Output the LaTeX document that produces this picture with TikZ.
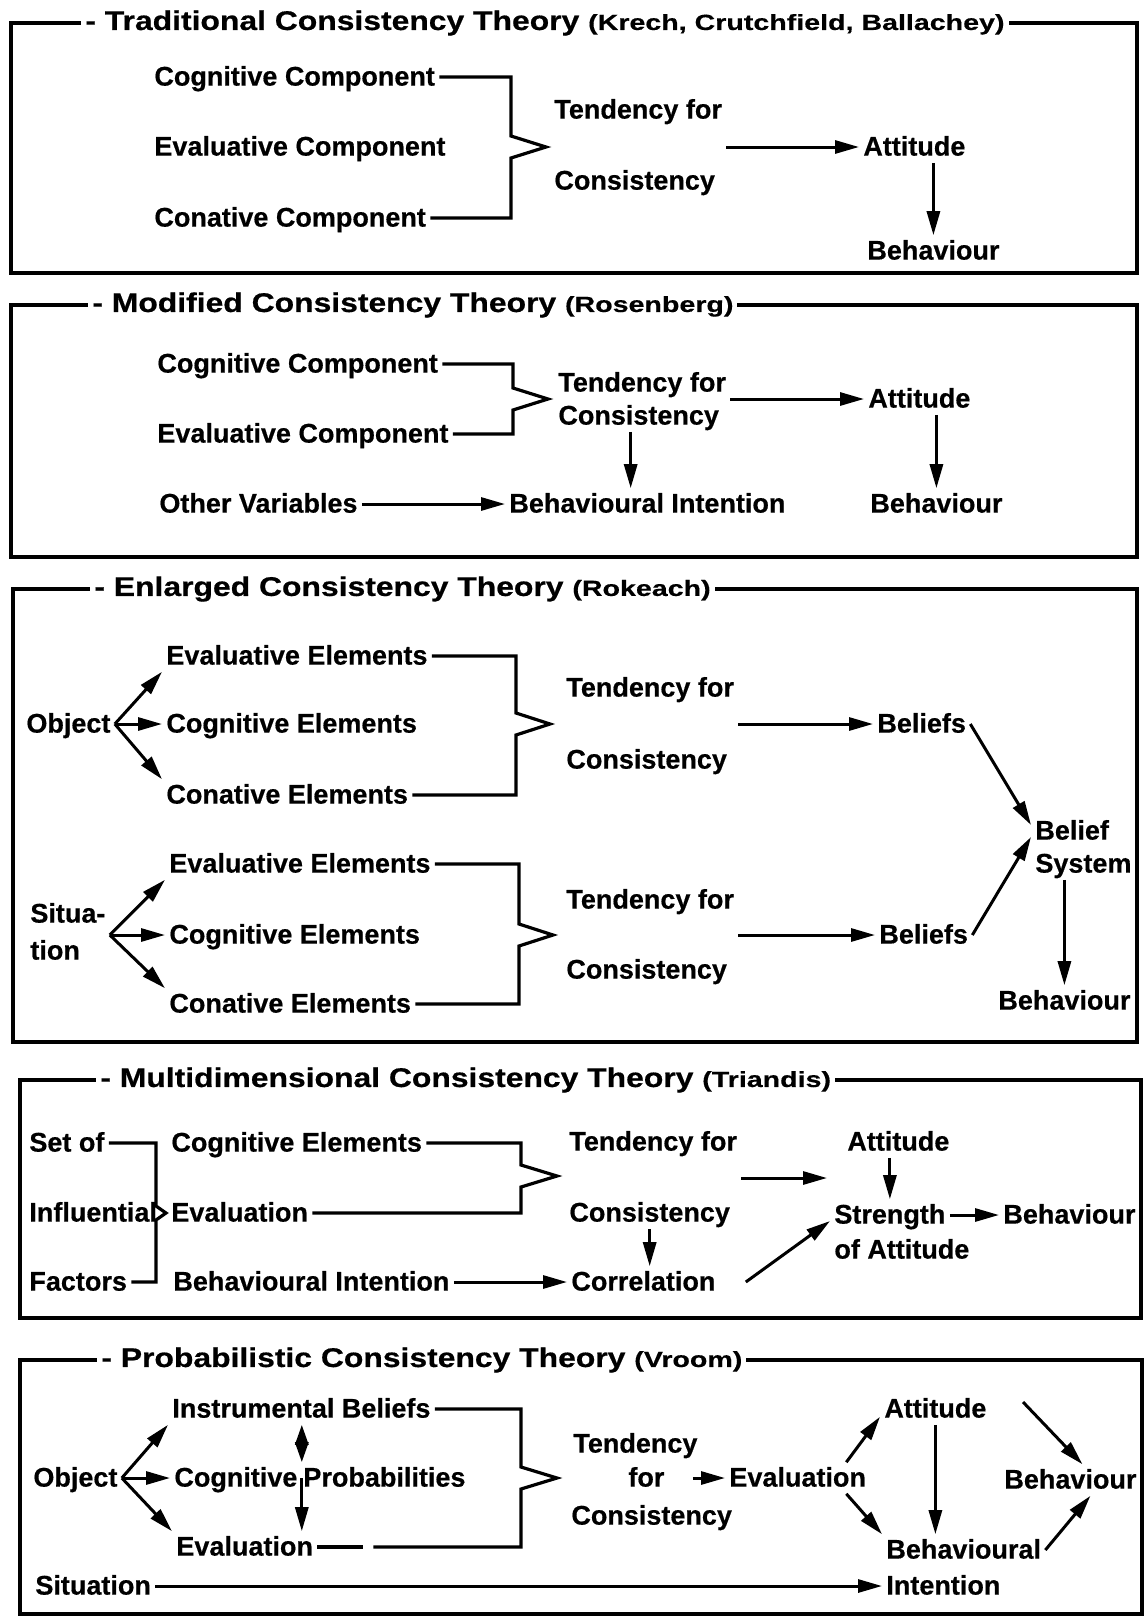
\documentclass[tikz,border=0pt]{standalone}
\usepackage{fontspec}
\setmainfont{Liberation Sans}[BoldFeatures={FakeBold=0.5}]
\newfontfamily\ttlfam{Liberation Sans}[FakeStretch=1.18, BoldFeatures={FakeBold=0.6}]
\newfontfamily\parfam{Liberation Sans}[FakeStretch=1.3, BoldFeatures={FakeBold=0.4}]
\usetikzlibrary{arrows.meta}
\newcommand{\bodyfnt}{\fontsize{13.5pt}{16pt}\selectfont\bfseries}
\newcommand{\ttlfnt}{\ttlfam\fontsize{13.5pt}{16pt}\selectfont\bfseries}
\newcommand{\parfnt}{\parfam\fontsize{11pt}{13pt}\selectfont\bfseries}

\begin{document}
\begin{tikzpicture}[
    x=0.5pt, y=-0.5pt,
    txt/.style={anchor=west, inner sep=2pt, font=\bodyfnt, text height=10pt, text depth=1.4pt},
    ttl/.style={anchor=west, inner sep=2pt, fill=white, font=\ttlfnt},
    frame/.style={draw, line width=2.2pt},
    link/.style={line width=1.6pt},
    arr/.style={line width=1.5pt, -{Triangle[length=12pt, width=6.5pt]}},
    biarr/.style={line width=1.5pt, {Triangle[length=10pt, width=6.5pt]}-{Triangle[length=10pt, width=6.5pt]}}
]
\useasboundingbox (0,0) rectangle (1145,1618);

% Box 1: traditional theory
\draw[frame] (11,23) rectangle (1137,273);
\node[ttl] (t1) at (81,23) {- Traditional Consistency Theory {\parfnt (Krech, Crutchfield, Ballachey)}};
\node[txt] (cc1) at (150,77) {Cognitive Component};
\node[txt] (ec1) at (150,147) {Evaluative Component};
\node[txt] (nc1) at (150,218) {Conative Component};
\node[txt] (tf1) at (550,110) {Tendency for};
\node[txt] (cs1) at (550,181) {Consistency};
\node[txt] (at1) at (859,147) {Attitude};
\node[txt] (bh1) at (863,251) {Behaviour};
\coordinate (k1) at (511,147);
\draw[link] (cc1.east) -| ([yshift=5.5pt]k1) -- ++(35,11) -- ++(-35,11) |- (nc1.east);
\draw[arr] (tf1.east |- at1.west) -- (at1.west);
\draw[arr] (bh1.north |- at1.south) -- (bh1.north);

% Box 2: modified theory
\draw[frame] (11,305) rectangle (1137,557);
\node[ttl] (t2) at (88,305) {- Modified Consistency Theory {\parfnt (Rosenberg)}};
\node[txt] (cc2) at (153,364) {Cognitive Component};
\node[txt] (ec2) at (153,434) {Evaluative Component};
\node[txt] (tf2) at (554,383) {Tendency for};
\node[txt] (cs2) at (554,416) {Consistency};
\node[txt] (at2) at (864,399) {Attitude};
\node[txt] (bh2) at (866,504) {Behaviour};
\node[txt] (ov2) at (155,504) {Other Variables};
\node[txt] (bi2) at (505,504) {Behavioural Intention};
\coordinate (k2) at (513,399);
\draw[link] (cc2.east) -| ([yshift=5.5pt]k2) -- ++(35,11) -- ++(-35,11) |- (ec2.east);
\draw[arr] (tf2.east |- at2.west) -- (at2.west);
\draw[arr] (bh2.north |- at2.south) -- (bh2.north);
\draw[arr] ([xshift=-4pt]cs2.south) -- ([xshift=-4pt]cs2.south |- bi2.north);
\draw[arr] (ov2) -- (bi2);

% Box 3: enlarged theory
\draw[frame] (13,589) rectangle (1137,1042);
\node[ttl] (t3) at (90,589) {- Enlarged Consistency Theory {\parfnt (Rokeach)}};
% object part
\node[txt] (ob3) at (22,724) {Object};
\node[txt] (ee3a) at (162,656) {Evaluative Elements};
\node[txt] (ce3a) at (162,724) {Cognitive Elements};
\node[txt] (ne3a) at (162,795) {Conative Elements};
\node[txt] (tf3a) at (562,688) {Tendency for};
\node[txt] (cs3a) at (562,760) {Consistency};
\node[txt] (bl3a) at (873,724) {Beliefs};
\draw[arr] (ob3.east) -- (ee3a.south west);
\draw[arr] (ob3.east) -- (ce3a.west);
\draw[arr] (ob3.east) -- (ne3a.north west);
\coordinate (k3a) at (516,724);
\draw[link] (ee3a.east) -| ([yshift=5.5pt]k3a) -- ++(34,11) -- ++(-34,11) |- (ne3a.east);
\draw[arr] (tf3a.east |- bl3a.west) -- (bl3a.west);
% situation part
\node[txt] (st3) at (26,914) {Situa-};
\node[txt] (st3b) at (26,951) {tion};
\node[txt] (ee3b) at (165,864) {Evaluative Elements};
\node[txt] (ce3b) at (165,935) {Cognitive Elements};
\node[txt] (ne3b) at (165,1004) {Conative Elements};
\node[txt] (tf3b) at (562,900) {Tendency for};
\node[txt] (cs3b) at (562,970) {Consistency};
\node[txt] (bl3b) at (875,935) {Beliefs};
\draw[arr] (st3.east |- ce3b.west) -- (ee3b.south west);
\draw[arr] (st3.east |- ce3b.west) -- (ce3b.west);
\draw[arr] (st3.east |- ce3b.west) -- (ne3b.north west);
\coordinate (k3b) at (519,935);
\draw[link] (ee3b.east) -| ([yshift=5.5pt]k3b) -- ++(34,11) -- ++(-34,11) |- (ne3b.east);
\draw[arr] (tf3b.east |- bl3b.west) -- (bl3b.west);
% belief system
\node[txt] (bf3) at (1031,831) {Belief};
\node[txt] (sy3) at (1031,864) {System};
\node[txt] (bh3) at (994,1001) {Behaviour};
\draw[arr] (bl3a.east) -- ([yshift=3pt]bf3.west);
\draw[arr] (bl3b.east) -- ([yshift=-3pt]bf3.west);
\draw[arr] (bh3.north |- sy3.south) -- (bh3.north);

% Box 4: multidimensional theory
\draw[frame] (20,1080) rectangle (1141,1318);
\node[ttl] (t4) at (96,1080) {- Multidimensional Consistency Theory {\parfnt (Triandis)}};
\node[txt] (so4) at (25,1143) {Set of};
\node[txt] (if4) at (25,1213) {Influential};
\node[txt] (fa4) at (25,1282) {Factors};
\node[txt] (cg4) at (167,1143) {Cognitive Elements};
\node[txt] (ev4) at (167,1213) {Evaluation};
\node[txt] (bi4) at (169,1282) {Behavioural Intention};
\node[txt] (tf4) at (565,1142) {Tendency for};
\node[txt] (cs4) at (565,1213) {Consistency};
\node[txt] (co4) at (567,1282) {Correlation};
\node[txt] (at4) at (843,1142) {Attitude};
\node[txt] (sa4) at (830,1215) {Strength};
\node[txt] (oa4) at (830,1250) {of Attitude};
\node[txt] (bh4) at (999,1215) {Behaviour};
\coordinate (kl4) at (156,1213);
\coordinate (k4) at (521,1176);
\coordinate (m4) at (827,1178);
\draw[link] (so4.east) -| ([yshift=3.5pt]kl4) -- ++(10,7) -- ++(-10,7) |- (fa4.east);
\draw[link] (cg4.east) -| ([yshift=5.5pt]k4) -- ++(36,11) -- ++(-36,11) |- (ev4.east);
\draw[arr] (bi4) -- (co4);
\draw[arr] (cs4.south) -- (cs4.south |- co4.north);
\draw[arr] (tf4.east |- m4) -- (m4);
\draw[arr] (sa4.north |- at4.south) -- (sa4.north);
\draw[arr] (sa4) -- (bh4);
\draw[arr] ([xshift=13pt]co4.east) -- ([yshift=-3pt]sa4.west);

% Box 5: probabilistic theory
\draw[frame] (20,1360) rectangle (1142,1614);
\node[ttl] (t5) at (97,1360) {- Probabilistic Consistency Theory {\parfnt (Vroom)}};
\node[txt] (ob5) at (29,1478) {Object};
\node[txt] (ib5) at (168,1409) {Instrumental Beliefs};
\node[txt] (cg5) at (170,1478) {Cognitive};
\node[txt] (pr5) at (299,1478) {Probabilities};
\node[txt] (ev5) at (172,1547) {Evaluation};
\node[txt] (st5) at (31,1586) {Situation};
\node[txt] (td5) at (569,1444) {Tendency};
\node[txt] (fr5) at (624,1478) {for};
\node[txt] (cy5) at (567,1516) {Consistency};
\node[txt] (ev5b) at (725,1478) {Evaluation};
\node[txt] (at5) at (880,1409) {Attitude};
\node[txt] (bi5) at (882,1550) {Behavioural};
\node[txt] (in5) at (882,1586) {Intention};
\node[txt] (bh5) at (1000,1480) {Behaviour};
\draw[arr] (ob5.east) -- (ib5.south west);
\draw[arr] (ob5.east) -- (cg5.west);
\draw[arr] (ob5.east) -- (ev5.north west);
\draw[biarr] (cg5.east |- ib5.south) -- (cg5.north east);
\draw[arr] (cg5.east) -- (cg5.east |- ev5.north);
\coordinate (k5) at (521,1478);
\draw[link] (ib5.east) -| ([yshift=5.5pt]k5) -- ++(36,11) -- ++(-36,11) |- ([xshift=28pt]ev5.east);
\draw[link] (ev5.east) -- ++(46,0);
\draw[arr] (st5) -- (in5);
\draw[arr, shorten <=12pt] (fr5.east) -- (ev5b.west);
\draw[arr] ([xshift=-12pt]ev5b.north east) -- ([yshift=4pt]at5.south west);
\draw[arr] ([xshift=-12pt]ev5b.south east) -- (bi5.north west);
\draw[arr] (at5.south) -- (at5.south |- bi5.north);
\coordinate (q5) at (1023,1402);
\draw[arr] (q5) -- ([xshift=6pt]bh5.north);
\draw[arr] (bi5.east) -- ([xshift=10pt]bh5.south);

\end{tikzpicture}
\end{document}
